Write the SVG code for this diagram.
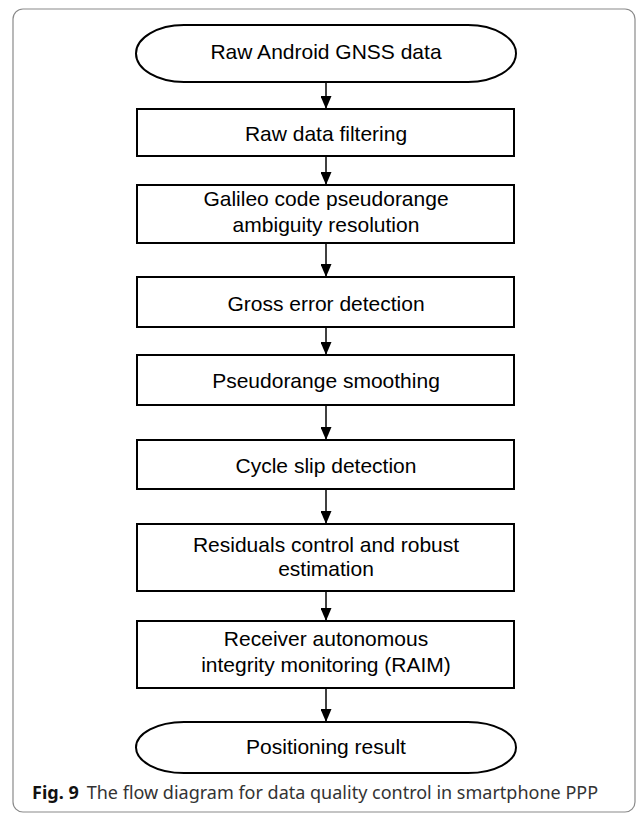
<svg xmlns="http://www.w3.org/2000/svg" width="638" height="814" viewBox="0 0 638 814">
<style>
.box{fill:#fff;stroke:#000;stroke-width:2}
.t{font-family:"Liberation Sans",Arial,sans-serif;font-size:21px;fill:#000;text-anchor:middle}
.c{stroke:#000;stroke-width:1.5;fill:none;marker-end:url(#arr)}
.cap{font-family:"Noto Sans","Open Sans",sans-serif;font-size:18px;fill:#333}
</style>
<defs>
<marker id="arr" markerWidth="13" markerHeight="11" refX="13" refY="5.5" orient="auto" markerUnits="userSpaceOnUse">
<path d="M0,0 L13,5.5 L0,11 Z" fill="#000"/>
</marker>
</defs>
<rect x="13" y="9" width="622" height="803" rx="10" fill="#fff" stroke="#8a8a8a" stroke-width="1.2"/>
<g id="connectors">
<line class="c" x1="326" y1="82" x2="326" y2="109"/>
<line class="c" x1="326" y1="156" x2="326" y2="185"/>
<line class="c" x1="326" y1="243" x2="326" y2="277"/>
<line class="c" x1="326" y1="327" x2="326" y2="355"/>
<line class="c" x1="326" y1="405" x2="326" y2="440"/>
<line class="c" x1="326" y1="489" x2="326" y2="524"/>
<line class="c" x1="326" y1="591" x2="326" y2="621"/>
<line class="c" x1="326" y1="688" x2="326" y2="722"/>
</g>
<g id="start">
<rect class="box" x="136" y="25" width="380" height="57" rx="48" ry="28.5"/>
<text class="t" x="326" y="59">Raw Android GNSS data</text>
</g>
<g id="filtering">
<rect class="box" x="137" y="109" width="377" height="47"/>
<text class="t" x="326" y="141">Raw data filtering</text>
</g>
<g id="galileo">
<rect class="box" x="137" y="185" width="377" height="58"/>
<text class="t" x="326" y="206">Galileo code pseudorange</text>
<text class="t" x="326" y="232">ambiguity resolution</text>
</g>
<g id="gross">
<rect class="box" x="137" y="277" width="377" height="50"/>
<text class="t" x="326" y="311">Gross error detection</text>
</g>
<g id="smoothing">
<rect class="box" x="137" y="355" width="377" height="50"/>
<text class="t" x="326" y="388">Pseudorange smoothing</text>
</g>
<g id="cycleslip">
<rect class="box" x="137" y="440" width="377" height="49"/>
<text class="t" x="326" y="473">Cycle slip detection</text>
</g>
<g id="residuals">
<rect class="box" x="137" y="524" width="377" height="67"/>
<text class="t" x="326" y="552">Residuals control and robust</text>
<text class="t" x="326" y="576">estimation</text>
</g>
<g id="raim">
<rect class="box" x="137" y="621" width="377" height="67"/>
<text class="t" x="326" y="646">Receiver autonomous</text>
<text class="t" x="326" y="672">integrity monitoring (RAIM)</text>
</g>
<g id="end">
<rect class="box" x="136" y="722" width="380" height="51" rx="48" ry="25.5"/>
<text class="t" x="326" y="754">Positioning result</text>
</g>
<text class="cap" x="32" y="799"><tspan font-weight="bold" fill="#111">Fig. 9</tspan><tspan dx="8">The flow diagram for data quality control in smartphone PPP</tspan></text>
</svg>
